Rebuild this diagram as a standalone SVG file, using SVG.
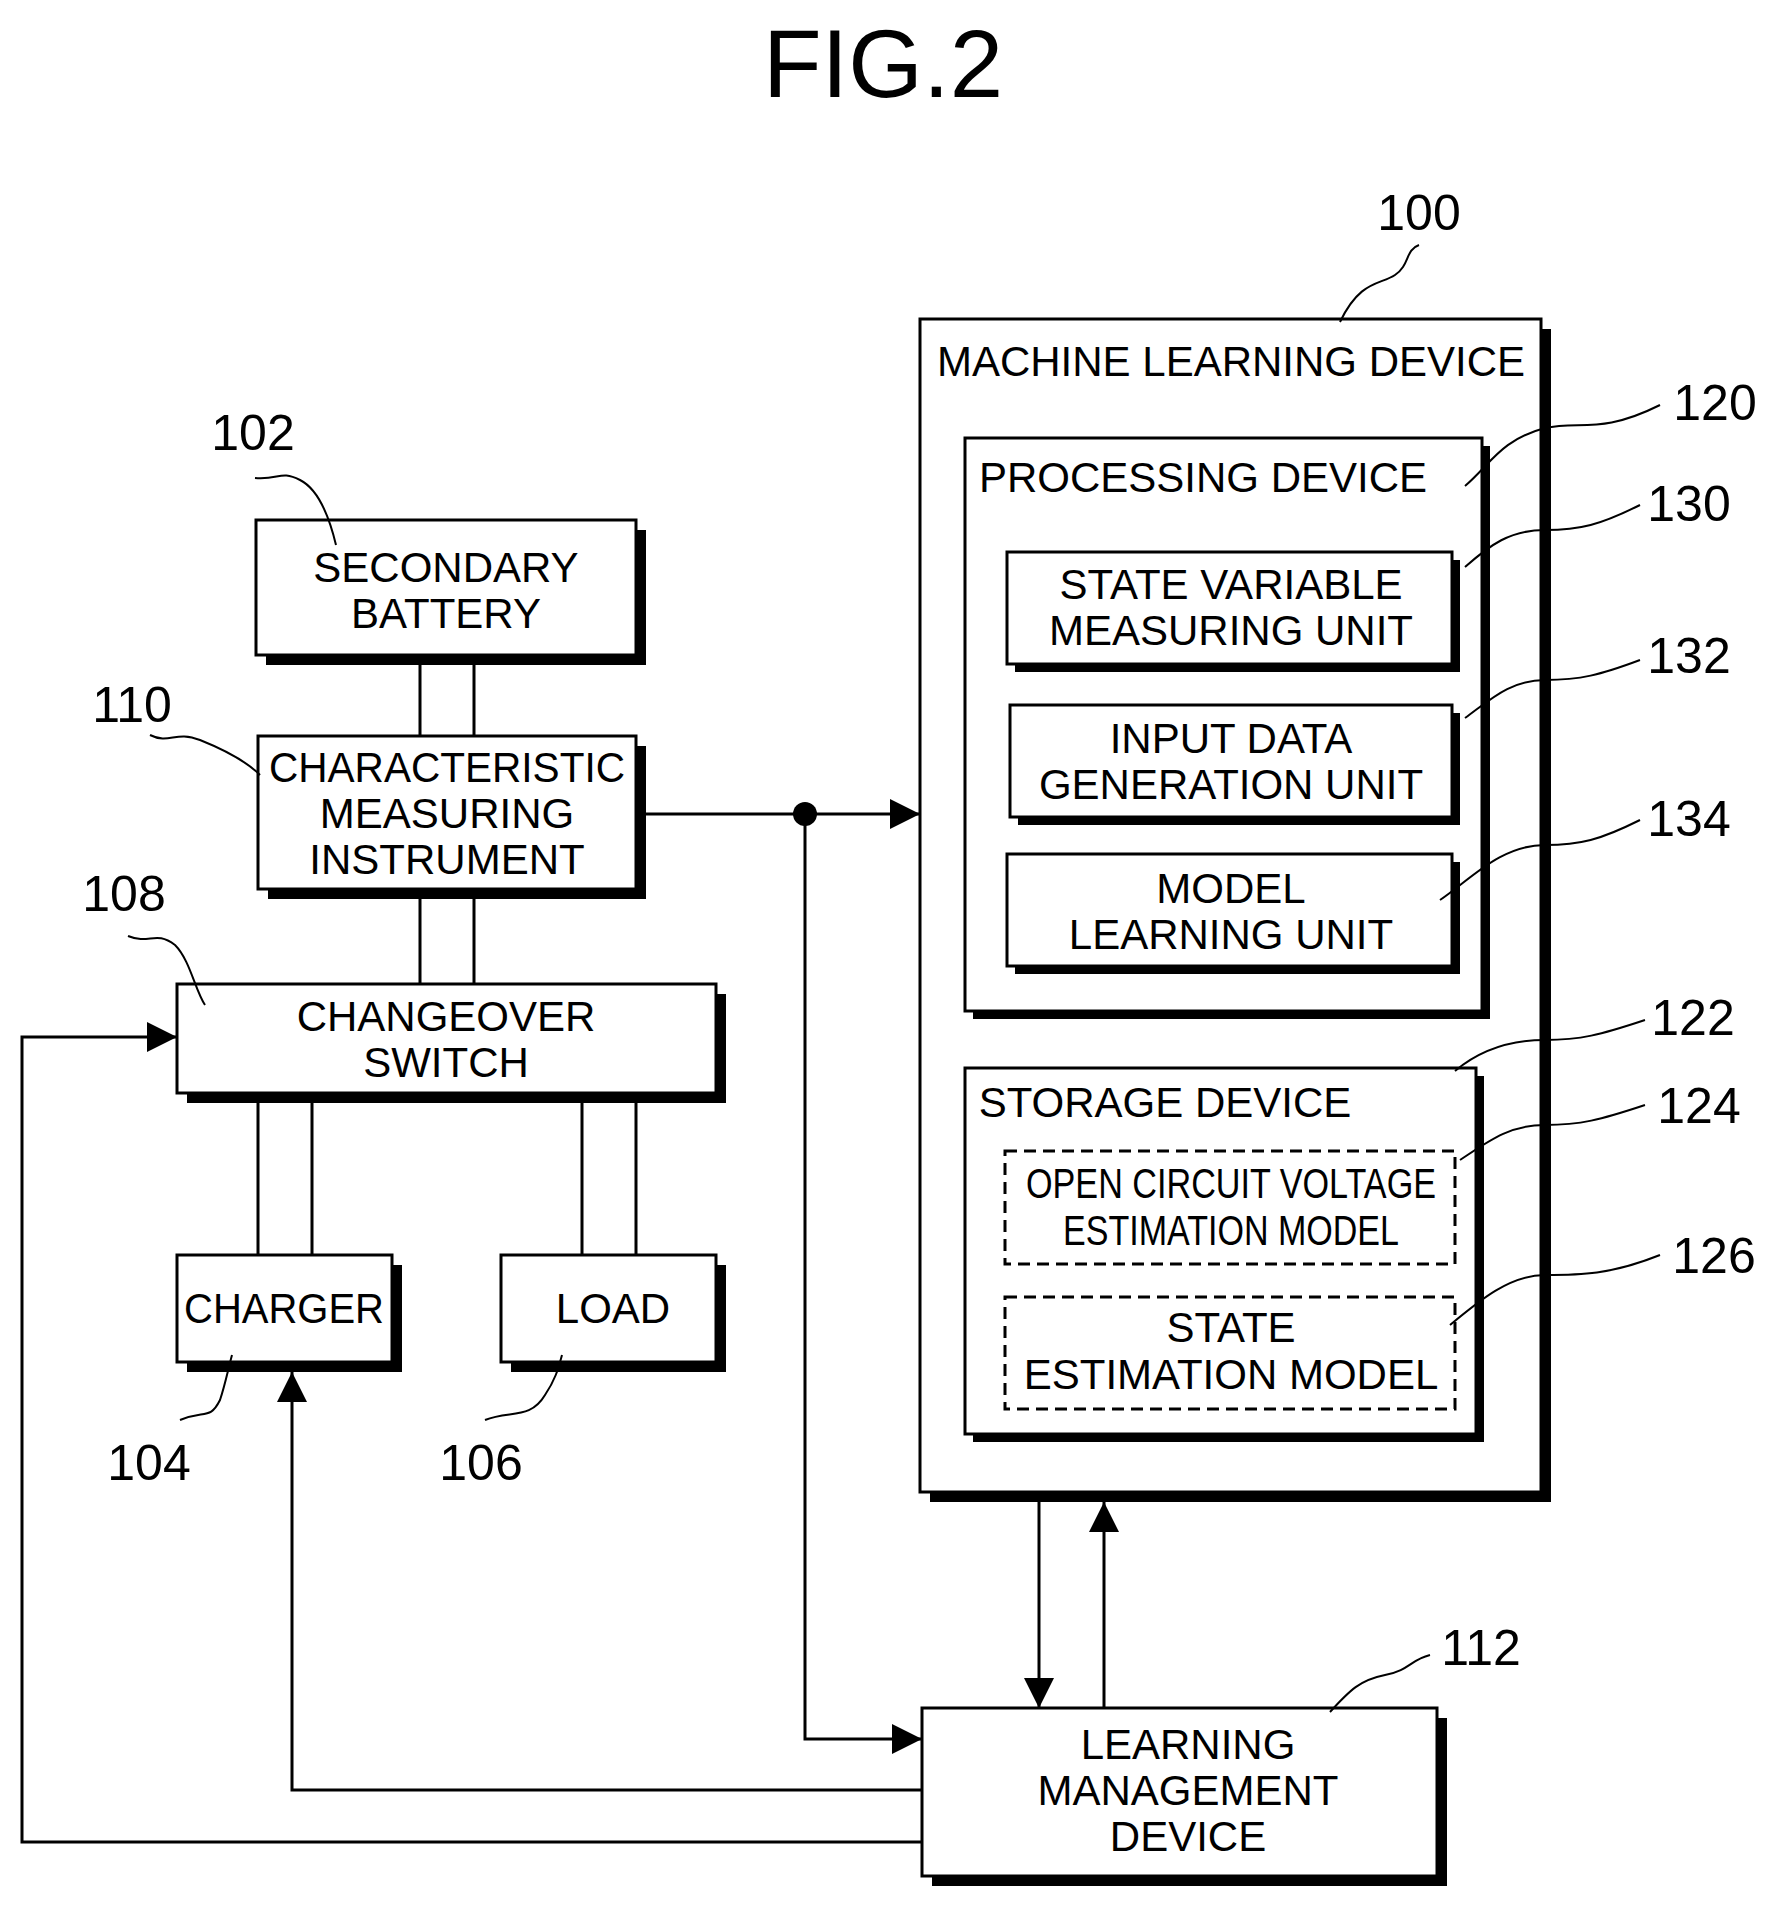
<svg xmlns="http://www.w3.org/2000/svg" width="1783" height="1918" viewBox="0 0 1783 1918">
<style>
.b{fill:#fff;stroke:#000;stroke-width:3}
.s{fill:#000}
.d{fill:#fff;stroke:#000;stroke-width:3;stroke-dasharray:12,7}
.t{font-family:"Liberation Sans",Arial,sans-serif;font-size:42px;text-anchor:middle}
.n{font-family:"Liberation Sans",Arial,sans-serif;font-size:50px;text-anchor:middle}
.l{fill:none;stroke:#000;stroke-width:3}
.w{fill:none;stroke:#000;stroke-width:2}
</style>
<defs><marker id="a" markerWidth="10" markerHeight="10" refX="9" refY="5" orient="auto" markerUnits="userSpaceOnUse" viewBox="0 0 10 10"><path d="M0,0L10,5L0,10z"/></marker>
<marker id="ah" viewBox="0 0 10 10" refX="10" refY="5" markerWidth="34" markerHeight="30" orient="auto" markerUnits="userSpaceOnUse"><path d="M0,0L10,5L0,10z"/></marker></defs>
<rect width="1783" height="1918" fill="#fff"/>
<text x="883" y="97" style="font-family:'Liberation Sans',Arial,sans-serif;font-size:96px;text-anchor:middle">FIG.2</text>

<g id="n100"><rect class="s" x="930" y="329" width="621" height="1173"/><rect class="b" x="920" y="319" width="621" height="1173"/>
<text class="t" x="1231" y="376">MACHINE LEARNING DEVICE</text></g>
<g id="n120"><rect class="s" x="973" y="446" width="517" height="573"/><rect class="b" x="965" y="438" width="517" height="573"/>
<text class="t" x="1203" y="492">PROCESSING DEVICE</text></g>
<g id="n130"><rect class="s" x="1015" y="560" width="445" height="112"/><rect class="b" x="1007" y="552" width="445" height="112"/>
<text class="t" x="1231" y="599">STATE VARIABLE</text><text class="t" x="1231" y="645">MEASURING UNIT</text></g>
<g id="n132"><rect class="s" x="1018" y="713" width="442" height="112"/><rect class="b" x="1010" y="705" width="442" height="112"/>
<text class="t" x="1231" y="753">INPUT DATA</text><text class="t" x="1231" y="799">GENERATION UNIT</text></g>
<g id="n134"><rect class="s" x="1015" y="862" width="445" height="112"/><rect class="b" x="1007" y="854" width="445" height="112"/>
<text class="t" x="1231" y="903">MODEL</text><text class="t" x="1231" y="949">LEARNING UNIT</text></g>
<g id="n122"><rect class="s" x="973" y="1076" width="511" height="366"/><rect class="b" x="965" y="1068" width="511" height="366"/>
<text class="t" x="1165" y="1117">STORAGE DEVICE</text></g>
<g id="n124"><rect class="d" x="1005" y="1151" width="450" height="113"/>
<text class="t" x="1231" y="1198" textLength="410" lengthAdjust="spacingAndGlyphs">OPEN CIRCUIT VOLTAGE</text><text class="t" x="1231" y="1245" textLength="336" lengthAdjust="spacingAndGlyphs">ESTIMATION MODEL</text></g>
<g id="n126"><rect class="d" x="1005" y="1297" width="450" height="112"/>
<text class="t" x="1231" y="1342">STATE</text><text class="t" x="1231" y="1389">ESTIMATION MODEL</text></g>

<g id="n102"><rect class="s" x="266" y="530" width="380" height="135"/><rect class="b" x="256" y="520" width="380" height="135"/>
<text class="t" x="446" y="582">SECONDARY</text><text class="t" x="446" y="628">BATTERY</text></g>
<g id="n110"><rect class="s" x="268" y="746" width="378" height="153"/><rect class="b" x="258" y="736" width="378" height="153"/>
<text class="t" x="447" y="782" textLength="356" lengthAdjust="spacingAndGlyphs">CHARACTERISTIC</text><text class="t" x="447" y="828">MEASURING</text><text class="t" x="447" y="874">INSTRUMENT</text></g>
<g id="n108"><rect class="s" x="187" y="994" width="539" height="109"/><rect class="b" x="177" y="984" width="539" height="109"/>
<text class="t" x="446" y="1031">CHANGEOVER</text><text class="t" x="446" y="1077">SWITCH</text></g>
<g id="n104"><rect class="s" x="187" y="1265" width="215" height="107"/><rect class="b" x="177" y="1255" width="215" height="107"/>
<text class="t" x="284" y="1323" textLength="200" lengthAdjust="spacingAndGlyphs">CHARGER</text></g>
<g id="n106"><rect class="s" x="511" y="1265" width="215" height="107"/><rect class="b" x="501" y="1255" width="215" height="107"/>
<text class="t" x="613" y="1323">LOAD</text></g>
<g id="n112"><rect class="s" x="932" y="1718" width="515" height="168"/><rect class="b" x="922" y="1708" width="515" height="168"/>
<text class="t" x="1188" y="1759">LEARNING</text><text class="t" x="1188" y="1805">MANAGEMENT</text><text class="t" x="1188" y="1851">DEVICE</text></g>

<g id="connectors">
<path class="l" d="M420,665V736M474,665V736M420,899V984M474,899V984M258,1103V1255M312,1103V1255M582,1103V1255M636,1103V1255"/>
<path class="l" d="M646,814H920" marker-end="url(#ah)"/>
<circle cx="805" cy="814" r="12"/>
<path class="l" d="M805,814V1739H922" marker-end="url(#ah)"/>
<path class="l" d="M1039,1502V1708" marker-end="url(#ah)"/>
<path class="l" d="M1104,1708V1502" marker-end="url(#ah)"/>
<path class="l" d="M922,1790H292V1372" marker-end="url(#ah)"/>
<path class="l" d="M922,1842H22V1037H177" marker-end="url(#ah)"/>
</g>
<g id="labels">
<text class="n" x="1419" y="230">100</text><path class="w" d="M1340,322C1360,280 1380,285 1395,275C1410,265 1405,250 1419,245"/>
<text class="n" x="253" y="450">102</text><path class="w" d="M255,478C280,480 280,470 300,480C320,490 330,520 336,545"/>
<text class="n" x="132" y="722">110</text><path class="w" d="M150,735C170,745 175,730 200,740C225,750 245,760 260,775"/>
<text class="n" x="124" y="911">108</text><path class="w" d="M128,936C150,945 155,930 175,945C190,960 195,990 205,1005"/>
<text class="n" x="149" y="1480">104</text><path class="w" d="M180,1420C205,1410 210,1420 220,1400C225,1385 228,1370 232,1355"/>
<text class="n" x="481" y="1480">106</text><path class="w" d="M485,1420C510,1410 530,1420 545,1395C555,1380 558,1370 562,1355"/>
<text class="n" x="1481" y="1665">112</text><path class="w" d="M1330,1712C1350,1690 1360,1680 1385,1675C1410,1670 1410,1660 1430,1655"/>
<text class="n" x="1715" y="420">120</text><path class="w" d="M1465,486C1490,465 1500,440 1545,428C1580,420 1600,435 1660,405"/>
<text class="n" x="1689" y="521">130</text><path class="w" d="M1465,567C1490,545 1510,530 1545,530C1580,530 1600,525 1640,505"/>
<text class="n" x="1689" y="673">132</text><path class="w" d="M1465,718C1490,700 1510,680 1545,680C1580,680 1600,675 1640,660"/>
<text class="n" x="1689" y="836">134</text><path class="w" d="M1440,900C1470,880 1500,845 1545,845C1580,845 1600,840 1640,820"/>
<text class="n" x="1693" y="1035">122</text><path class="w" d="M1455,1071C1480,1050 1510,1040 1545,1040C1580,1040 1600,1035 1645,1020"/>
<text class="n" x="1699" y="1123">124</text><path class="w" d="M1460,1160C1490,1140 1510,1125 1545,1125C1580,1125 1600,1120 1645,1105"/>
<text class="n" x="1714" y="1273">126</text><path class="w" d="M1450,1325C1480,1300 1510,1275 1545,1275C1580,1275 1610,1275 1660,1255"/>
</g>
</svg>
